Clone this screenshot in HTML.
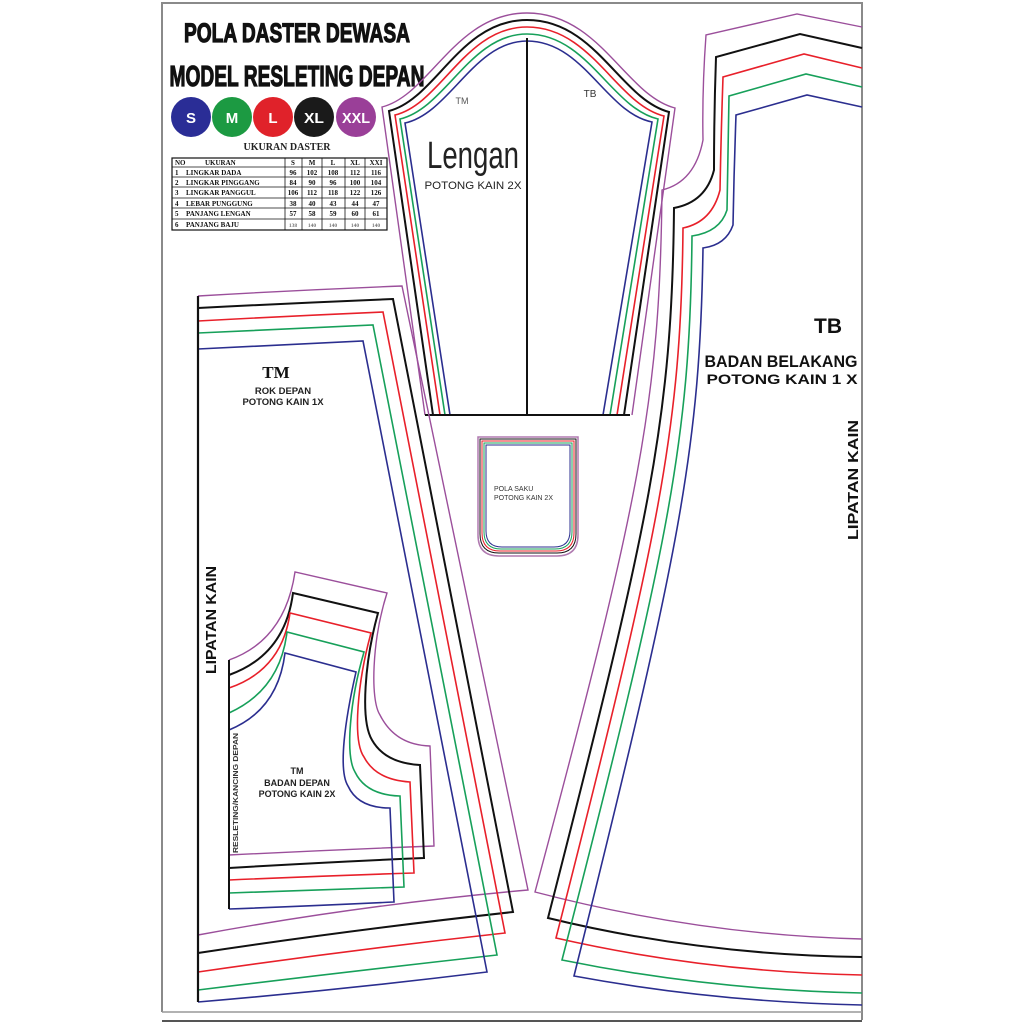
<!DOCTYPE html>
<html><head><meta charset="utf-8"><style>
html,body{margin:0;padding:0;background:#fff;}
svg{display:block;}
text{font-family:"Liberation Sans",sans-serif;}
.s,.s text{font-family:"Liberation Serif",serif;font-weight:bold;}
</style></head><body>
<svg width="1024" height="1024" viewBox="0 0 1024 1024" xmlns="http://www.w3.org/2000/svg">
<rect width="1024" height="1024" fill="#fff"/>
<path d="M162,1012 V3 H862 V1020" fill="none" stroke="#8a8a8a" stroke-width="2"/>
<line x1="162" y1="1012" x2="862" y2="1012" stroke="#999" stroke-width="1.5"/>
<line x1="162" y1="1021" x2="862" y2="1021" stroke="#555" stroke-width="2"/>

<text x="297" y="42" text-anchor="middle" font-size="27" font-weight="bold" textLength="226" lengthAdjust="spacingAndGlyphs" stroke="#111" stroke-width="1.2" fill="#111">POLA DASTER DEWASA</text>
<text x="297" y="86" text-anchor="middle" font-size="29" font-weight="bold" textLength="255" lengthAdjust="spacingAndGlyphs" stroke="#111" stroke-width="1.2" fill="#111">MODEL RESLETING DEPAN</text>

<g font-weight="bold" font-size="15" fill="#fff" text-anchor="middle">
<circle cx="191" cy="117" r="20" fill="#2a2d96"/><text x="191" y="123" fill="#fff">S</text>
<circle cx="232" cy="117" r="20" fill="#1c9a42"/><text x="232" y="123" fill="#fff">M</text>
<circle cx="273" cy="117" r="20" fill="#e0222a"/><text x="273" y="123" fill="#fff">L</text>
<circle cx="314" cy="117" r="20" fill="#1a1a1a"/><text x="314" y="123" fill="#fff" textLength="20" lengthAdjust="spacingAndGlyphs">XL</text>
<circle cx="356" cy="117" r="20" fill="#9a3f98"/><text x="356" y="123" fill="#fff" textLength="28" lengthAdjust="spacingAndGlyphs">XXL</text>
</g>

<text class="s" x="287" y="150" text-anchor="middle" font-size="10" fill="#222">UKURAN DASTER</text>

<g stroke="#111" fill="none">
<rect x="172" y="158" width="215" height="72" stroke-width="1.2"/>
<g stroke-width="0.8">
<line x1="172" y1="167" x2="387" y2="167"/>
<line x1="172" y1="177" x2="387" y2="177"/>
<line x1="172" y1="187" x2="387" y2="187"/>
<line x1="172" y1="198" x2="387" y2="198"/>
<line x1="172" y1="208" x2="387" y2="208"/>
<line x1="172" y1="219" x2="387" y2="219"/>
<line x1="285" y1="158" x2="285" y2="230"/>
<line x1="302" y1="158" x2="302" y2="230"/>
<line x1="322" y1="158" x2="322" y2="230"/>
<line x1="345" y1="158" x2="345" y2="230"/>
<line x1="365" y1="158" x2="365" y2="230"/>
</g></g>
<g class="s" font-size="7" fill="#111">
<text x="175" y="165">NO</text><text x="205" y="165">UKURAN</text>
<text x="293" y="165" text-anchor="middle">S</text><text x="312" y="165" text-anchor="middle">M</text><text x="333" y="165" text-anchor="middle">L</text><text x="355" y="165" text-anchor="middle">XL</text><text x="376" y="165" text-anchor="middle">XXI</text>
<text x="175" y="175">1</text><text x="186" y="175">LINGKAR DADA</text>
<text x="293" y="175" text-anchor="middle">96</text><text x="312" y="175" text-anchor="middle">102</text><text x="333" y="175" text-anchor="middle">108</text><text x="355" y="175" text-anchor="middle">112</text><text x="376" y="175" text-anchor="middle">116</text>
<text x="175" y="185">2</text><text x="186" y="185">LINGKAR PINGGANG</text>
<text x="293" y="185" text-anchor="middle">84</text><text x="312" y="185" text-anchor="middle">90</text><text x="333" y="185" text-anchor="middle">96</text><text x="355" y="185" text-anchor="middle">100</text><text x="376" y="185" text-anchor="middle">104</text>
<text x="175" y="195">3</text><text x="186" y="195">LINGKAR PANGGUL</text>
<text x="293" y="195" text-anchor="middle">106</text><text x="312" y="195" text-anchor="middle">112</text><text x="333" y="195" text-anchor="middle">118</text><text x="355" y="195" text-anchor="middle">122</text><text x="376" y="195" text-anchor="middle">126</text>
<text x="175" y="206">4</text><text x="186" y="206">LEBAR PUNGGUNG</text>
<text x="293" y="206" text-anchor="middle">38</text><text x="312" y="206" text-anchor="middle">40</text><text x="333" y="206" text-anchor="middle">43</text><text x="355" y="206" text-anchor="middle">44</text><text x="376" y="206" text-anchor="middle">47</text>
<text x="175" y="216">5</text><text x="186" y="216">PANJANG LENGAN</text>
<text x="293" y="216" text-anchor="middle">57</text><text x="312" y="216" text-anchor="middle">58</text><text x="333" y="216" text-anchor="middle">59</text><text x="355" y="216" text-anchor="middle">60</text><text x="376" y="216" text-anchor="middle">61</text>
<text x="175" y="227">6</text><text x="186" y="227">PANJANG BAJU</text>
<g font-size="5.5" fill="#777"><text x="293" y="227" text-anchor="middle">138</text><text x="312" y="227" text-anchor="middle">140</text><text x="333" y="227" text-anchor="middle">140</text><text x="355" y="227" text-anchor="middle">140</text><text x="376" y="227" text-anchor="middle">140</text></g>
</g>

<g fill="none" stroke-linejoin="miter">
<path d="M425,415 L382,107 C430,95 455,13 527,13 C600,13 625,95 675,108 L632,415" stroke="#9b4f9b" stroke-width="1.4"/>
<path d="M433,415 L389,111 C436,99 460,20 527,20 C596,20 620,99 669,112 L624,415" stroke="#111" stroke-width="2"/>
<path d="M440,415 L395,115 C441,104 465,27 527,27 C592,27 616,104 664,116 L617,415" stroke="#e8202a" stroke-width="1.6"/>
<path d="M445,415 L400,119 C446,108 470,34 527,34 C588,34 611,108 658,119 L610,415" stroke="#17a05a" stroke-width="1.6"/>
<path d="M450,415 L405,123 C450,113 474,41 527,41 C584,41 606,113 652,122 L603,415" stroke="#2b2e8f" stroke-width="1.6"/>
<path d="M527,38 V415 M425,415 H630" stroke="#111" stroke-width="2"/>

<path d="M198,296 Q300,290 402,286 L528,890 Q360,905 198,935" stroke="#9b4f9b" stroke-width="1.4"/>
<path d="M198,308 Q295,303 393,299 L513,912 Q350,930 198,953" stroke="#111" stroke-width="2"/>
<path d="M198,321 Q290,316 383,312 L505,933 Q350,950 198,972" stroke="#e8202a" stroke-width="1.6"/>
<path d="M198,333 Q285,329 373,325 L497,955 Q345,972 198,990" stroke="#17a05a" stroke-width="1.6"/>
<path d="M198,349 Q280,345 363,341 L487,972 Q340,990 198,1002" stroke="#2b2e8f" stroke-width="1.6"/>
<path d="M198,296 V1002" stroke="#111" stroke-width="2.2"/>

<path d="M229,660 Q285,640 295,572 L387,593 C372,640 370,700 380,715 Q395,745 430,746 L434,846 Q330,850 229,855" stroke="#9b4f9b" stroke-width="1.4"/>
<path d="M229,675 Q285,655 293,593 L378,613 C365,660 360,720 372,740 Q385,763 420,765 L424,858 Q330,862 229,868" stroke="#111" stroke-width="2"/>
<path d="M229,688 Q282,670 290,613 L371,633 C358,680 352,740 364,757 Q376,780 410,782 L414,873 Q320,876 229,880" stroke="#e8202a" stroke-width="1.6"/>
<path d="M229,713 Q280,690 287,632 L364,652 C350,700 345,755 355,772 Q366,795 400,796 L404,887 Q315,890 229,893" stroke="#17a05a" stroke-width="1.6"/>
<path d="M229,730 Q278,710 285,653 L356,672 C345,720 338,770 348,786 Q358,808 390,808 L394,902 Q310,906 229,909" stroke="#2b2e8f" stroke-width="1.6"/>
<path d="M229,660 V909" stroke="#111" stroke-width="2"/>

<path d="M862,27 L797,14 L706,35 Q702,90 703,140 Q695,182 662,190 C660,400 640,500 535,892 Q700,935 862,939" stroke="#9b4f9b" stroke-width="1.4"/>
<path d="M862,48 L800,34 L716,57 Q714,115 714,170 Q706,202 674,208 C672,420 650,520 548,918 Q700,955 862,957" stroke="#111" stroke-width="2"/>
<path d="M862,68 L804,54 L723,77 Q721,135 720,190 Q712,222 683,228 C681,430 660,530 556,938 Q705,972 862,975" stroke="#e8202a" stroke-width="1.6"/>
<path d="M862,87 L806,74 L729,96 Q728,150 727,210 Q720,232 692,236 C690,440 670,540 562,960 Q710,990 862,993" stroke="#17a05a" stroke-width="1.6"/>
<path d="M862,107 L807,95 L736,115 Q734,170 733,225 Q726,245 703,248 C700,450 680,550 574,976 Q715,1002 862,1005" stroke="#2b2e8f" stroke-width="1.6"/>

<path d="M478,437 H578 V535 Q578,556 557,556 H499 Q478,556 478,535 Z" stroke="#b07ab0" stroke-width="1.5"/>
<path d="M480,439 H576 V534 Q576,553 557,553 H499 Q480,553 480,534 Z" stroke="#111" stroke-width="1"/>
<path d="M482,441 H574 V533 Q574,551 556,551 H500 Q482,551 482,533 Z" stroke="#e8202a" stroke-width="1"/>
<path d="M484,443 H572 V532 Q572,549 555,549 H501 Q484,549 484,532 Z" stroke="#17a05a" stroke-width="1"/>
<path d="M486,445 H570 V531 Q570,547 554,547 H502 Q486,547 486,531 Z" stroke="#2b2e8f" stroke-width="1"/>
</g>

<text x="462" y="104" font-size="9" fill="#555" text-anchor="middle">TM</text>
<text x="590" y="97" font-size="10" fill="#333" text-anchor="middle">TB</text>
<text x="473" y="168" font-size="38" fill="#222" text-anchor="middle" textLength="92" lengthAdjust="spacingAndGlyphs">Lengan</text>
<text x="473" y="189" font-size="11" fill="#222" text-anchor="middle" textLength="97" lengthAdjust="spacingAndGlyphs">POTONG KAIN 2X</text>

<text x="828" y="333" font-size="21" font-weight="bold" fill="#111" text-anchor="middle">TB</text>
<text x="781" y="367" font-size="17" font-weight="bold" fill="#111" text-anchor="middle" textLength="153" lengthAdjust="spacingAndGlyphs">BADAN BELAKANG</text>
<text x="782" y="384" font-size="14" font-weight="bold" fill="#111" text-anchor="middle" textLength="151" lengthAdjust="spacingAndGlyphs">POTONG KAIN 1 X</text>
<text transform="translate(858,480) rotate(-90)" font-size="15" font-weight="bold" fill="#111" text-anchor="middle" textLength="120" lengthAdjust="spacingAndGlyphs">LIPATAN KAIN</text>
<text transform="translate(216,620) rotate(-90)" font-size="15" font-weight="bold" fill="#111" text-anchor="middle" textLength="108" lengthAdjust="spacingAndGlyphs">LIPATAN KAIN</text>

<text class="s" x="276" y="378" font-size="17" fill="#111" text-anchor="middle">TM</text>
<text x="283" y="394" font-size="9.5" font-weight="bold" fill="#222" text-anchor="middle">ROK DEPAN</text>
<text x="283" y="405" font-size="9.5" font-weight="bold" fill="#222" text-anchor="middle">POTONG KAIN 1X</text>

<text transform="translate(238,793) rotate(-90)" font-size="7" font-weight="bold" fill="#333" text-anchor="middle" textLength="120" lengthAdjust="spacingAndGlyphs">RESLETING/KANCING DEPAN</text>
<text x="297" y="774" font-size="9" font-weight="bold" fill="#222" text-anchor="middle">TM</text>
<text x="297" y="786" font-size="9" font-weight="bold" fill="#222" text-anchor="middle">BADAN DEPAN</text>
<text x="297" y="797" font-size="9" font-weight="bold" fill="#222" text-anchor="middle">POTONG KAIN 2X</text>

<text x="494" y="491" font-size="7" fill="#333">POLA SAKU</text>
<text x="494" y="500" font-size="7" fill="#333">POTONG KAIN 2X</text>
</svg>
</body></html>
